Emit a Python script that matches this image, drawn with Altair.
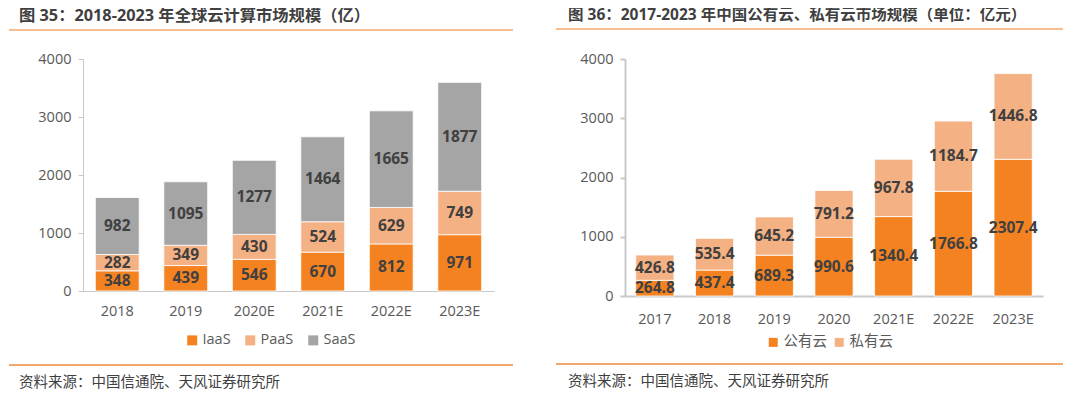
import altair as alt
import pandas as pd

# ---- data ----
years1 = ["2018", "2019", "2020E", "2021E", "2022E", "2023E"]
iaas = [348, 439, 546, 670, 812, 971]
paas = [282, 349, 430, 524, 629, 749]
saas = [982, 1095, 1277, 1464, 1665, 1877]
series1 = ["IaaS", "PaaS", "SaaS"]

years2 = ["2017", "2018", "2019", "2020", "2021E", "2022E", "2023E"]
public_cloud = [264.8, 437.4, 689.3, 990.6, 1340.4, 1766.8, 2307.4]
private_cloud = [426.8, 535.4, 645.2, 791.2, 967.8, 1184.7, 1446.8]
series2 = ["公有云", "私有云"]

y_ticks = [0, 1000, 2000, 3000, 4000]

title1 = "图 35：2018-2023 年全球云计算市场规模（亿）"
title2 = "图 36：2017-2023 年中国公有云、私有云市场规模（单位：亿元）"
source = "资料来源：中国信通院、天风证券研究所"

FONT = "Open Sans, Noto Sans CJK SC, sans-serif"
ORANGE = "#F58220"
LIGHT = "#F4B183"
GRAY = "#A5A5A5"

rows1 = []
for i, y in enumerate(years1):
    for k, (s, vals) in enumerate(zip(series1, [iaas, paas, saas])):
        rows1.append({"year": y, "seg1": s, "order": k, "value": vals[i]})
df1 = pd.DataFrame(rows1)

rows2 = []
for i, y in enumerate(years2):
    for k, (s, vals) in enumerate(zip(series2, [public_cloud, private_cloud])):
        rows2.append({"year": y, "seg2": s, "order": k, "value": vals[i]})
df2 = pd.DataFrame(rows2)


def panel(df, years, segfield, series, colors, W, H, fmt, legend_x, legend_y,
          title, title_x, title_y, title_size, rule_x0, rule_x1, rule_top,
          rule_bot, src_y, thick_axis, label_pad_x, col_pad, sym_size):
    dom_w = 2 if thick_axis else 1
    dom_c = "#C9C9C9" if thick_axis else "#C8C8C8"
    base = alt.Chart(df).transform_stack(
        stack="value", groupby=["year"], as_=["y0", "y1"],
        sort=[alt.SortField("order", order="ascending")]
    ).transform_calculate(mid="(datum.y0 + datum.y1) / 2")

    xenc = alt.X("year:N", sort=years, title=None,
                 scale=alt.Scale(paddingInner=0.36, paddingOuter=0.18),
                 axis=alt.Axis(labelAngle=0, ticks=False, labelFontSize=14.5,
                               labelColor="#595959", labelFont=FONT,
                               labelPadding=label_pad_x, domainColor=dom_c,
                               domainWidth=dom_w))
    bars = base.mark_bar(stroke="white", strokeWidth=0.8).encode(
        x=xenc,
        y=alt.Y("y0:Q", title=None,
                scale=alt.Scale(domain=[0, 4000], nice=False),
                axis=alt.Axis(values=y_ticks, format="d", grid=False,
                              tickSize=5, tickColor=dom_c, tickWidth=dom_w,
                              domainColor=dom_c, domainWidth=dom_w,
                              labelFontSize=14.5, labelColor="#595959",
                              labelFont=FONT, labelPadding=7)),
        y2="y1:Q",
        color=alt.Color(f"{segfield}:N",
                        scale=alt.Scale(domain=series, range=colors),
                        legend=alt.Legend(title=None, orient="none",
                                          direction="horizontal",
                                          legendX=legend_x, legendY=legend_y,
                                          symbolType="square",
                                          symbolSize=sym_size,
                                          symbolStrokeWidth=0,
                                          labelFontSize=14.5, labelFont=FONT,
                                          labelColor="#595959", labelOffset=3,
                                          columnPadding=col_pad)),
    )
    texts = base.mark_text(fontSize=15.5, fontWeight="bold", color="#404040",
                           font=FONT, baseline="middle").encode(
        x=alt.X("year:N", sort=years),
        y=alt.Y("mid:Q"),
        text=alt.Text("value:Q", format=fmt),
    )
    deco = pd.DataFrame({"t": [title], "s": [source]})
    ttl = alt.Chart(deco).mark_text(align="left", baseline="middle",
                                    fontSize=title_size, fontWeight="bold",
                                    color="#404040", font=FONT).encode(
        x=alt.value(title_x), y=alt.value(title_y), text="t:N")
    src = alt.Chart(deco).mark_text(align="left", baseline="middle",
                                    fontSize=14.5, color="#404040",
                                    font=FONT).encode(
        x=alt.value(title_x), y=alt.value(src_y), text="s:N")
    r1 = alt.Chart(deco).mark_rule(color="#F7A96A", strokeWidth=1.5).encode(
        x=alt.value(rule_x0), x2=alt.value(rule_x1), y=alt.value(rule_top))
    r2 = alt.Chart(deco).mark_rule(color="#F08A3C", strokeWidth=1.5).encode(
        x=alt.value(rule_x0), x2=alt.value(rule_x1), y=alt.value(rule_bot))
    return alt.layer(bars, texts, ttl, src, r1, r2).properties(width=W, height=H)


left = panel(df1, years1, "seg1", series1, [ORANGE, LIGHT, GRAY], 411, 232,
             "d", 102, 274, title1, -64, -43, 16.3, -74, 430, -29, 306, 324,
             False, 13, 12, 100)
right = panel(df2, years2, "seg2", series2, [ORANGE, LIGHT], 418, 237,
              ".1f", 141, 276, title2, -57, -44, 15.5, -69, 438, -30, 305, 323,
              True, 16, 5, 81)

chart = alt.hconcat(left, right, spacing=41).resolve_scale(
    color="independent", x="independent", y="independent"
).properties(padding=0).configure_view(stroke=None)

chart.save("out.html", embed_options={"renderer": "svg", "actions": False})
